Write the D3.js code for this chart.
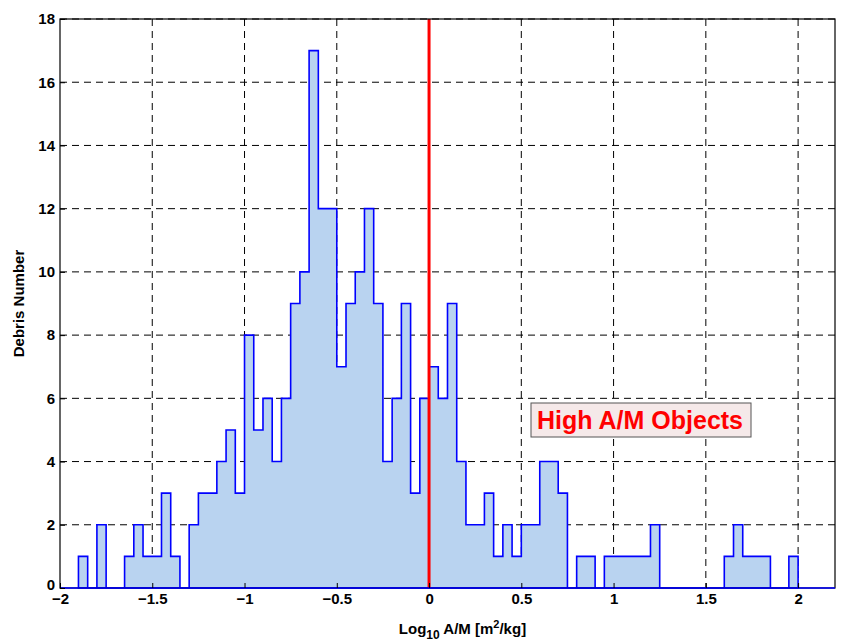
<!DOCTYPE html>
<html><head><meta charset="utf-8">
<script src="https://cdn.jsdelivr.net/npm/d3@7"></script>
<style>body{margin:0;background:#fff}text{font-family:"Liberation Sans",Arial,sans-serif;font-weight:bold}</style>
</head><body><svg id="chart" width="842" height="641"></svg>
<script>
'use strict';

// bins de largeur 0.05 a partir de -1.9
var binStart = -1.9;
var binWidth = 0.05;
var counts = [1,0,2,0,0,1,2,1,1,3,1,0,2,3,3,4,5,3,8,5,6,4,6,9,10,17,12,12,7,9,10,12,9,4,6,9,3,6,
  7,6,9,4,2,2,3,1,2,1,2,2,4,4,3,0,1,1,0,1,1,1,1,1,2,0,0,0,0,0,0,0,1,2,1,1,1,0,0,1];
var xTicks = [-2,-1.5,-1,-0.5,0,0.5,1,1.5,2];
var yTicks = [0,2,4,6,8,10,12,14,16,18];

var svg = d3.select("#chart");
var L = 60, R = 835, T = 19, B = 588;
var x = d3.scaleLinear().domain([-2, 2.2]).range([L, R]);
var y = d3.scaleLinear().domain([0, 18]).range([B, T]);

// grille pointillee
svg.append("g").selectAll("line").data(xTicks.slice(1)).join("line")
  .attr("x1", d => x(d)).attr("x2", d => x(d)).attr("y1", T).attr("y2", B)
  .attr("stroke", "#000").attr("stroke-dasharray", "7,5").attr("stroke-width", 1);
svg.append("g").selectAll("line").data(yTicks.slice(1)).join("line")
  .attr("x1", L).attr("x2", R).attr("y1", d => y(d)).attr("y2", d => y(d))
  .attr("stroke", "#000").attr("stroke-dasharray", "7,5").attr("stroke-width", 1);

// histogramme en escalier
var pts = [[binStart, 0]];
counts.forEach(function(c, i) {
  pts.push([binStart + i * binWidth, c]);
  pts.push([binStart + (i + 1) * binWidth, c]);
});
pts.push([binStart + counts.length * binWidth, 0]);
var line = d3.line().x(d => x(d[0])).y(d => y(d[1]));
svg.append("path").attr("d", line(pts) + "Z")
  .attr("fill", "#b9d3f0").attr("stroke", "#0000ff").attr("stroke-width", 1.6);

// ligne rouge a zero
svg.append("line").attr("x1", x(0)).attr("x2", x(0)).attr("y1", T).attr("y2", B)
  .attr("stroke", "#ff0000").attr("stroke-width", 3);

// cadre et axes
svg.append("rect").attr("x", L).attr("y", T).attr("width", R - L).attr("height", B - T)
  .attr("fill", "none").attr("stroke", "#000").attr("stroke-width", 1.2);
svg.append("line").attr("x1", L).attr("x2", R).attr("y1", B).attr("y2", B)
  .attr("stroke", "#0000ff").attr("stroke-width", 1.6);

var xAxis = svg.append("g").attr("transform", "translate(0," + B + ")")
  .call(d3.axisBottom(x).tickValues(xTicks).tickSizeInner(-5).tickSizeOuter(0).tickPadding(3).tickFormat(d3.format("")));
var yAxis = svg.append("g").attr("transform", "translate(" + L + ",0)")
  .call(d3.axisLeft(y).tickValues(yTicks).tickSizeInner(-5).tickSizeOuter(0).tickPadding(5));
[xAxis, yAxis].forEach(function(a) {
  a.select(".domain").remove();
  a.selectAll("text").attr("font-size", 15).attr("fill", "#000");
});
xAxis.selectAll("text").attr("dy", "0.85em");
yAxis.selectAll(".tick").filter(d => d === 0).select("text").attr("dy", "0.1em");

// titres
svg.append("text").attr("transform", "translate(24," + ((T + B) / 2) + ") rotate(-90)")
  .attr("text-anchor", "middle").attr("font-size", 15).text("Debris Number");
var xl = svg.append("text").attr("x", (L + R) / 2 + 15).attr("y", 634).attr("text-anchor", "middle").attr("font-size", 15);
xl.append("tspan").text("Log");
xl.append("tspan").attr("dy", 5).attr("font-size", 12).text("10");
xl.append("tspan").attr("dy", -5).text(" A/M [m");
xl.append("tspan").attr("dy", -6).attr("font-size", 11).text("2");
xl.append("tspan").attr("dy", 6).text("/kg]");

// etiquette
svg.append("rect").attr("x", 531).attr("y", 403).attr("width", 220).attr("height", 34)
  .attr("fill", "#f5e9e9").attr("stroke", "#555").attr("stroke-width", 1);
svg.append("text").attr("x", 640).attr("y", 429).attr("text-anchor", "middle")
  .attr("font-size", 25).attr("fill", "#ff0000").text("High A/M Objects");
</script></body></html>
